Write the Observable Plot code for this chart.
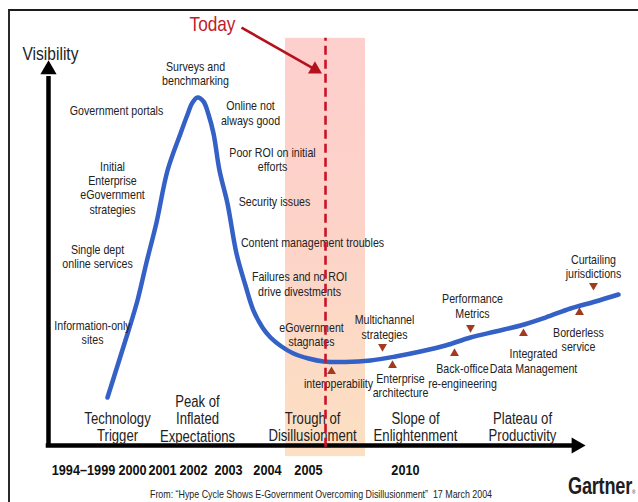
<!DOCTYPE html>
<html>
<head>
<meta charset="utf-8">
<script src="https://cdn.jsdelivr.net/npm/d3@7"></script>
<script src="https://cdn.jsdelivr.net/npm/@observablehq/plot@0.6"></script>
<style>
  body { margin: 0; background: #fff; }
  #wrap { position: relative; width: 638px; height: 502px; overflow: hidden; background: #fff;
          font-family: "Liberation Sans", Arial, sans-serif; }
  #chart { position: absolute; left: 0; top: 0; }
  #frame { position: absolute; left: 8px; top: 9px; right: -4px; bottom: -4px;
           border-top: 2px solid #1c1c1c; border-left: 2px solid #2a2a2a; pointer-events: none; }
  #foot { position: absolute; left: 0; top: 478px; width: 638px; height: 24px; }
  #caption { position: absolute; left: 150px; top: 10px; transform: scaleX(0.805); transform-origin: 0 0;
             font-size: 11px; line-height: 12px; color: #222; white-space: pre; }
  #brand { position: absolute; left: 568px; top: -3px; font-size: 23px; line-height: 23px;
           transform: scaleX(0.79); transform-origin: 0 0;
           font-weight: bold; color: #1e1e1e; letter-spacing: -0.3px; white-space: pre; }
</style>
</head>
<body>
<div id="wrap">
  <div id="chart"></div>
  <div id="foot">
    <div id="caption">From: “Hype Cycle Shows E-Government Overcoming Disillusionment”  17 March 2004</div>
    <div id="brand">Gartner<span style="font-size:6px;font-weight:normal">®</span></div>
  </div>
  <div id="frame"></div>
</div>
<script>
const FONT = '"Liberation Sans", Arial, sans-serif';
const NARROW = 0.82; // horizontal squeeze to mimic Arial Narrow

// Hype curve: maturity (x, 0-100) vs visibility (y, 0-100)
const hypeX = [10.35, 12.28, 14.04, 15.61, 17.19, 18.95, 20.88, 23.16, 24.39, 25.26, 26.14, 27.19, 28.07, 28.95, 30.0, 31.40, 32.98, 34.56, 35.96, 37.54, 38.95, 40.88, 42.98, 45.61, 48.25, 52.11, 56.49, 60.88, 65.26, 69.65, 74.04, 78.42, 82.81, 87.19, 91.58, 95.96, 100];
const hypeY = [13.79, 23.85, 33.05, 41.67, 52.59, 64.08, 79.02, 89.66, 95.11, 98.56, 100, 98.85, 95.11, 89.66, 79.02, 69.54, 55.17, 45.98, 38.79, 33.91, 31.03, 28.45, 26.44, 25.0, 24.14, 23.99, 24.43, 25.57, 27.01, 28.74, 31.03, 32.76, 34.48, 36.78, 39.37, 41.38, 43.39];

// Technology notes along the cycle
const noteText = [
  "Surveys and\nbenchmarking", "Government portals", "Online not\nalways good",
  "Poor ROI on initial\nefforts", "Initial\nEnterprise\neGovernment\nstrategies",
  "Single dept\nonline services", "Information-only\nsites", "Security issues",
  "Content management troubles", "Failures and no ROI\ndrive divestments",
  "eGovernment\nstagnates", "Multichannel\nstrategies", "interoperability",
  "Enterprise\narchitecture", "Back-office\nre-engineering", "Performance\nMetrics",
  "Integrated\nData Management", "Borderless\nservice", "Curtailing\njurisdictions"
];
const noteX = [25.79, 11.93, 35.44, 39.30, 11.23, 8.60, 7.72, 39.65, 46.32, 44.04, 46.14, 58.95, 50.88, 61.75, 72.63, 74.39, 85.09, 92.98, 95.61];
const noteY = [106.9, 96.26, 95.55, 82.18, 74.0, 54.31, 32.47, 70.11, 58.33, 46.41, 31.90, 34.05, 17.82, 17.24, 19.97, 40.09, 24.28, 30.46, 51.44];

// Small markers pointing at the curve
const markDownX = [58.60, 74.04, 95.61];
const markDownY = [28.45, 33.91, 45.98];
const markUpX = [49.65, 60.35, 71.23, 83.33, 93.16];
const markUpY = [21.26, 22.99, 26.44, 32.18, 38.22];

// Phases
const phaseText = ["Technology\nTrigger", "Peak of\nInflated\nExpectations", "Trough of\nDisillusionment", "Slope of\nEnlightenment", "Plateau of\nProductivity"];
const phaseX = [12.11, 26.14, 46.32, 64.39, 83.16];
const phaseY = [5.32, 7.76, 5.32, 5.32, 5.32];

// Year tick labels
const yearLabel = ["1994–1999", "2000", "2001", "2002", "2003", "2004", "2005", "2010"];
const yearPos = [6.14, 14.74, 20.0, 25.44, 31.58, 38.42, 45.61, 62.63];

// "Today" marker and trough band
const todayX = 48.6;
const bandX = [41.58, 55.61];
const bandY = [-3.2, 117];
const axisEndX = 92.0, axisEndY = 106;
const arrowHeadX = 92.59, arrowHeadY = 108;
const todayLabel = {x: 28.77, y: 120.98};
const todayArrow = {x1: 33.86, y1: 120.11, x2: 46.75, y2: 108.07};
const visibilityLabel = {x: -4.56, y: 112.6};

const curve = hypeX.map((x, i) => ({x, y: hypeY[i]}));
const notes = noteText.map((t, i) => ({t, x: noteX[i], y: noteY[i]}));
const downs = markDownX.map((x, i) => ({x, y: markDownY[i]}));
const ups = markUpX.map((x, i) => ({x, y: markUpY[i]}));
const phases = phaseText.map((t, i) => ({t, x: phaseX[i], y: phaseY[i]}));
const yearMap = new Map(yearPos.map((p, i) => [p, yearLabel[i]]));

const gradient = () => {
  const defs = d3.create("svg:defs");
  const g = defs.append("linearGradient").attr("id", "todayBand")
    .attr("x1", 0).attr("y1", 0).attr("x2", 0).attr("y2", 1);
  g.append("stop").attr("offset", "0%").attr("stop-color", "#fdcfcd");
  g.append("stop").attr("offset", "45%").attr("stop-color", "#fdd3c8");
  g.append("stop").attr("offset", "100%").attr("stop-color", "#fce0c2");
  return defs.node();
};

const plot = Plot.plot({
  width: 638,
  height: 478,
  marginLeft: 48, marginRight: 20, marginTop: 97, marginBottom: 33,
  x: {domain: [0, 100], range: [48, 618], label: null},
  y: {domain: [0, 100], range: [445, 97], axis: null, label: null},
  style: {fontFamily: FONT, background: "transparent", overflow: "visible", color: "#222"},
  marks: [
    gradient,
    Plot.rect([{x1: bandX[0], x2: bandX[1], y1: bandY[0], y2: bandY[1]}],
      {x1: "x1", x2: "x2", y1: "y1", y2: "y2", fill: "url(#todayBand)"}),
    Plot.line(curve, {x: "x", y: "y", curve: "catmull-rom", stroke: "#3461c6", strokeWidth: 4.5}),
    // axes
    Plot.ruleY([{y: 0, x1: -0.4, x2: axisEndX}], {y: "y", x1: "x1", x2: "x2", stroke: "#000", strokeWidth: 4.5}),
    Plot.ruleX([{x: 0, y1: -0.6, y2: axisEndY}], {x: "x", y1: "y1", y2: "y2", stroke: "#000", strokeWidth: 4.5}),
    Plot.dot([{x: arrowHeadX, y: 0}], {x: "x", y: "y", symbol: "triangle", r: 6, fill: "#000", rotate: 90}),
    Plot.dot([{x: 0, y: arrowHeadY}], {x: "x", y: "y", symbol: "triangle", r: 6, fill: "#000"}),
    Plot.axisX({ticks: yearPos, tickFormat: d => yearMap.get(d), tickSize: 0, tickPadding: 18,
      fontSize: 15.5, fontWeight: "bold", fill: "#111", label: null}),
    // texts
    Plot.text(notes, {x: "x", y: "y", text: "t", fontSize: 13, lineHeight: 1.08, fill: "#222"}),
    Plot.text(phases, {x: "x", y: "y", text: "t", fontSize: 16, lineHeight: 1.1, fill: "#222"}),
    Plot.dot(downs, {x: "x", y: "y", symbol: "triangle", r: 3.3, fill: "#a23a20", rotate: 180}),
    Plot.dot(ups, {x: "x", y: "y", symbol: "triangle", r: 3.3, fill: "#a23a20"}),
    Plot.text([visibilityLabel], {x: "x", y: "y", text: () => "Visibility", textAnchor: "start", fontSize: 19, fill: "#222"}),
    Plot.text([todayLabel], {x: "x", y: "y", text: () => "Today", fontSize: 21, fill: "#c21a2c"}),
    Plot.link([todayArrow], {x1: "x1", y1: "y1", x2: "x2", y2: "y2", stroke: "#b3121c", strokeWidth: 2.6}),
    Plot.dot([{x: todayArrow.x2, y: todayArrow.y2}], {x: "x", y: "y", symbol: "triangle", r: 5.2, fill: "#b3121c", rotate: 119.7}),
    Plot.ruleX([{x: todayX, y1: -0.5, y2: bandY[1]}], {x: "x", y1: "y1", y2: "y2", stroke: "#c8142a", strokeWidth: 2.6, strokeDasharray: "9,5"})
  ]
});

// Squeeze every text horizontally around its own anchor (Arial Narrow look)
d3.select(plot).selectAll("text").each(function() {
  const t = this.getAttribute("transform");
  if (t) this.setAttribute("transform", t + ` scale(${NARROW},1)`);
});
document.getElementById("chart").appendChild(plot);
</script>
</body>
</html>
